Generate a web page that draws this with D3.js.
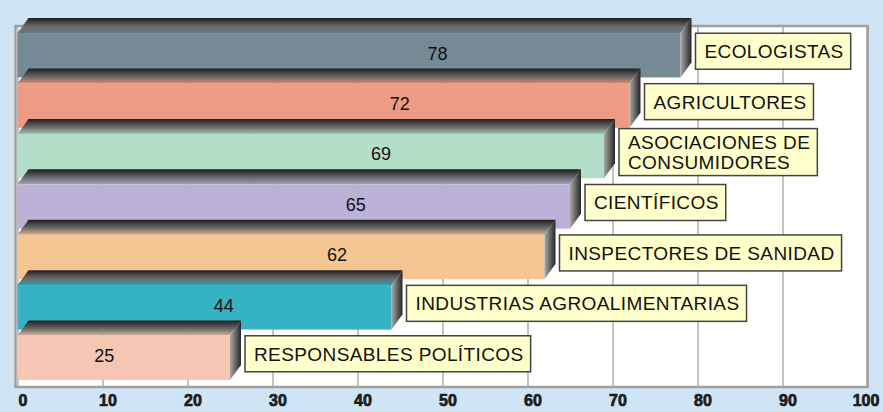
<!DOCTYPE html>
<html>
<head>
<meta charset="utf-8">
<script src="https://cdn.jsdelivr.net/npm/d3@7"></script>
<style>
  html, body { margin: 0; padding: 0; background: #cfe4f4; }
  svg { display: block; }
</style>
</head>
<body>
<div id="chart"></div>
<script>
var categories = ["ECOLOGISTAS", "AGRICULTORES", "ASOCIACIONES DE\nCONSUMIDORES", "CIENTÍFICOS",
    "INSPECTORES DE SANIDAD", "INDUSTRIAS AGROALIMENTARIAS", "RESPONSABLES POLÍTICOS"];
var values = [78, 72, 69, 65, 62, 44, 25];
var barColors = ["#768a95", "#ee9b84", "#b3dfc8", "#bcb2d8", "#f5c692", "#35b2c3", "#f5c6b2"];
var tickValues = [0, 10, 20, 30, 40, 50, 60, 70, 80, 90, 100];

var W = 883, H = 412;
var plot = { left: 15.5, top: 26, right: 867.5, bottom: 387 };
var depth = { dx: 11, dy: -15 };

var svg = d3.select("#chart").append("svg")
    .attr("width", W)
    .attr("height", H);

var defs = svg.append("defs");

var x = d3.scaleLinear().domain([0, 100]).range([17.5, 867.5]);
var y = d3.scaleBand().domain(categories)
    .range([plot.top, plot.bottom])
    .paddingInner(0.12)
    .paddingOuter(0.14);

// plot frame
svg.append("rect")
    .attr("x", plot.left)
    .attr("y", plot.top)
    .attr("width", plot.right - plot.left)
    .attr("height", plot.bottom - plot.top)
    .attr("fill", "#fff");

// grid + tick labels
var axis = svg.append("g")
    .attr("transform", "translate(0," + plot.bottom + ")")
    .call(d3.axisBottom(x).tickValues(tickValues).tickSize(-(plot.bottom - plot.top)).tickFormat(d3.format("d")));
axis.select(".domain").remove();
axis.selectAll(".tick line").attr("stroke", "#a4a4a4").attr("stroke-width", 1.3);
axis.selectAll(".tick text")
    .attr("y", 19)
    .attr("dy", 0)
    .attr("dx", function(d) { return d === 100 ? -2 : 5; })
    .attr("fill", "#1c1c1c")
    .attr("stroke", "#1c1c1c")
    .attr("stroke-width", 0.7)
    .style("font-family", "'Liberation Sans', Arial, sans-serif")
    .style("font-weight", "bold")
    .style("font-size", "16px");

svg.append("rect")
    .attr("x", plot.left)
    .attr("y", plot.top)
    .attr("width", plot.right - plot.left)
    .attr("height", plot.bottom - plot.top)
    .attr("fill", "none")
    .attr("stroke", "#a0a0a0")
    .attr("stroke-width", 2.5);

// gradients for 3d faces
var sideGrad = defs.append("linearGradient").attr("id", "side")
    .attr("x1", 0).attr("y1", 0).attr("x2", 1).attr("y2", 0);
sideGrad.append("stop").attr("offset", "0%").attr("stop-color", "#a8a8a8");
sideGrad.append("stop").attr("offset", "100%").attr("stop-color", "#262626");

barColors.forEach(function(c, i) {
    var g = defs.append("linearGradient").attr("id", "top" + i)
        .attr("x1", 0).attr("y1", 0).attr("x2", 0).attr("y2", 1);
    g.append("stop").attr("offset", "0%").attr("stop-color", "#1e1e1e");
    g.append("stop").attr("offset", "55%").attr("stop-color", "#6a6a6a");
    g.append("stop").attr("offset", "100%").attr("stop-color", d3.color(c).darker(0.35).formatHex());
});

var data = categories.map(function(c, i) {
    return { cat: c, value: values[i], color: barColors[i], idx: i };
});

var bars = svg.selectAll(".bar").data(data).enter().append("g").attr("class", "bar");

bars.each(function(d) {
    var g = d3.select(this);
    var x0 = x(0), x1 = x(d.value), y0 = y(d.cat), y1 = y(d.cat) + y.bandwidth();
    var dx = depth.dx, dy = depth.dy;
    // front
    g.append("rect")
        .attr("x", x0).attr("y", y0)
        .attr("width", x1 - x0).attr("height", y1 - y0)
        .attr("fill", d.color);
    // top
    g.append("path")
        .attr("d", "M" + x0 + "," + y0 + "L" + (x0 + dx) + "," + (y0 + dy) +
            "L" + (x1 + dx) + "," + (y0 + dy) + "L" + x1 + "," + y0 + "Z")
        .attr("fill", "url(#top" + d.idx + ")");
    // side
    g.append("path")
        .attr("d", "M" + x1 + "," + y0 + "L" + (x1 + dx) + "," + (y0 + dy) +
            "L" + (x1 + dx) + "," + (y1 + dy) + "L" + x1 + "," + y1 + "Z")
        .attr("fill", "url(#side)");
    // value label
    g.append("text")
        .attr("x", x(d.value) * 0.74 - 66)
        .attr("y", (y0 + y1) / 2 - 2)
        .attr("dy", "0.35em")
        .attr("text-anchor", "middle")
        .attr("fill", "#111")
        .style("font-family", "'Liberation Sans', Arial, sans-serif")
        .style("font-size", "18px")
        .text(d.value);
});

// category boxes
var labels = svg.selectAll(".lab").data(data).enter().append("g").attr("class", "lab");
labels.each(function(d) {
    var g = d3.select(this);
    var lines = d.cat.split("\n");
    var cy = y(d.cat) + y.bandwidth() / 2 - 4;
    var left = x(d.value) + 15;
    var lh = 20;
    var rect = g.append("rect");
    var t = g.append("text")
        .attr("fill", "#111")
        .style("font-family", "'Liberation Sans', Arial, sans-serif")
        .style("font-size", "19px")
        .style("letter-spacing", "0.4px");
    lines.forEach(function(l, k) {
        t.append("tspan")
            .attr("x", left + 9)
            .attr("y", cy + (k - (lines.length - 1) / 2) * lh)
            .attr("dy", "0.36em")
            .text(l);
    });
    var bb = t.node().getBBox();
    var h = lines.length > 1 ? 47 : 36;
    rect.attr("x", left)
        .attr("y", cy - h / 2)
        .attr("width", bb.width + 16)
        .attr("height", h)
        .attr("fill", "#ffffcb")
        .attr("stroke", "#444")
        .attr("stroke-width", 1.5);
});
</script>
</body>
</html>
